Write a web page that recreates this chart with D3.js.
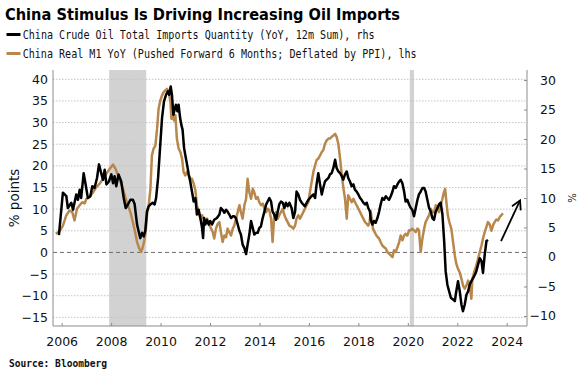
<!DOCTYPE html>
<html>
<head>
<meta charset="utf-8">
<script src="https://cdn.jsdelivr.net/npm/d3@7"></script>
<style>
  html, body { margin: 0; padding: 0; background: #fff; }
  svg { display: block; }
</style>
</head>
<body>
<svg id="chart" width="580" height="371"></svg>
<script>
// ---------- DATA ----------
const titleText = "China Stimulus Is Driving Increasing Oil Imports";
const legendLabels = [
  "China Crude Oil Total Imports Quantity (YoY, 12m Sum), rhs",
  "China Real M1 YoY (Pushed Forward 6 Months; Deflated by PPI), lhs"
];
const sourceText = "Source: Bloomberg";
const leftAxisLabel = "% points";
const rightAxisLabel = "%";

const xTickYears = [2006, 2008, 2010, 2012, 2014, 2016, 2018, 2020, 2022, 2024];
const leftTicks = [-15, -10, -5, 0, 5, 10, 15, 20, 25, 30, 35, 40];
const rightTicks = [-10, -5, 0, 5, 10, 15, 20, 25, 30];

// shaded periods (decimal years)
const recessionStarts = [2007.92, 2020.08];
const recessionEnds = [2009.42, 2020.25];

// China crude oil imports, YoY 12m sum (rhs)
const oilYears = [
2005.89,2006.05,2006.19,2006.25,2006.39,2006.46,2006.59,2006.66,2006.73,2006.79,2006.89,2006.97,
2007.06,2007.16,2007.24,2007.33,2007.43,2007.51,2007.60,2007.67,2007.74,2007.81,2007.91,
2008.01,2008.08,2008.14,2008.21,2008.30,2008.41,2008.51,2008.59,2008.68,2008.78,2008.88,2008.95,
2009.05,2009.11,2009.18,2009.25,2009.32,2009.38,2009.45,2009.52,2009.59,2009.68,2009.76,2009.82,2009.90,2009.98,
2010.06,2010.14,2010.22,2010.30,2010.35,2010.41,2010.46,2010.52,2010.57,2010.62,2010.68,2010.73,2010.79,2010.84,2010.89,2010.95,
2011.00,2011.07,2011.14,2011.20,2011.27,2011.34,2011.41,2011.47,2011.54,2011.61,2011.68,2011.72,2011.76,2011.81,2011.88,2011.95,
2012.01,2012.08,2012.17,2012.28,2012.38,2012.44,2012.51,2012.58,2012.65,2012.71,2012.78,2012.85,2012.92,2012.98,
2013.05,2013.12,2013.19,2013.25,2013.32,2013.39,2013.46,2013.52,2013.59,2013.66,2013.73,2013.79,2013.86,2013.93,2013.99,
2014.06,2014.13,2014.20,2014.27,2014.33,2014.40,2014.47,2014.53,2014.60,2014.67,2014.74,2014.80,2014.87,2014.94,
2015.01,2015.07,2015.14,2015.21,2015.30,2015.37,2015.44,2015.50,2015.57,2015.64,2015.71,2015.77,2015.84,2015.91,2015.98,
2016.04,2016.11,2016.18,2016.25,2016.31,2016.38,2016.45,2016.52,2016.58,2016.65,2016.72,2016.79,2016.85,2016.92,2016.99,
2017.06,2017.12,2017.19,2017.26,2017.33,2017.39,2017.46,2017.53,2017.59,2017.66,2017.73,2017.80,2017.86,2017.93,
2018.00,2018.07,2018.13,2018.20,2018.27,2018.34,2018.40,2018.47,2018.50,2018.57,2018.63,2018.70,2018.77,2018.84,2018.90,2018.97,
2019.04,2019.11,2019.17,2019.24,2019.31,2019.38,2019.44,2019.51,2019.58,2019.65,2019.71,2019.78,2019.85,2019.91,2019.98,
2020.05,2020.12,2020.18,2020.25,2020.32,2020.39,2020.45,2020.52,2020.59,2020.66,2020.72,2020.79,2020.86,2020.93,2020.99,
2021.06,2021.13,2021.20,2021.26,2021.33,2021.40,2021.47,2021.53,2021.60,2021.67,2021.74,2021.83,2021.90,2021.96,
2022.03,2022.10,2022.17,2022.23,2022.30,2022.37,2022.44,2022.50,2022.57,2022.64,2022.71,2022.77,2022.84,2022.91,2022.98,
2023.04,2023.11,2023.18,2023.24
];
const oilValues = [
3.7,10.9,10.3,8.3,9.2,8.0,10.6,9.7,11.4,10.0,14.2,12.3,
10.0,10.3,12.0,11.7,13.4,15.7,14.2,13.1,14.8,12.3,12.8,
14.0,12.5,13.7,12.0,14.0,12.8,10.0,8.3,8.9,9.7,9.7,9.0,
5.5,4.4,3.2,4.1,3.5,4.4,7.7,8.6,8.9,9.2,8.9,10.0,13.4,18.5,
23.6,26.4,27.5,28.1,27.5,28.9,27.5,24.1,25.0,25.8,24.7,25.8,23.6,22.4,21.6,18.5,
17.3,15.7,14.0,12.8,11.1,9.4,10.0,7.2,8.0,6.6,4.9,3.2,6.6,5.5,6.3,5.5,
6.1,5.5,6.3,6.6,7.2,8.3,8.0,7.5,8.0,7.7,7.2,6.6,6.9,6.9,
6.6,5.5,4.4,3.8,2.1,1.5,0.5,2.1,3.8,6.1,4.9,3.8,4.1,4.1,4.9,
5.2,6.6,7.7,8.9,9.4,10.0,9.4,7.7,7.2,6.3,7.7,8.9,9.4,9.2,
8.3,9.2,8.6,9.2,8.3,6.6,7.7,11.1,10.6,9.7,9.2,8.9,8.6,9.2,9.7,
10.0,10.3,10.6,10.0,12.3,14.2,12.3,10.6,11.7,12.8,13.1,13.4,14.0,14.2,15.1,
16.5,15.1,14.5,14.2,13.7,13.1,14.0,14.5,13.4,12.8,12.0,12.3,11.4,11.1,
10.6,10.0,9.7,9.2,8.9,9.2,8.3,7.7,6.3,5.5,6.1,5.8,6.6,7.7,8.9,10.0,
9.7,10.3,10.0,9.7,10.3,11.1,12.0,11.7,12.3,12.8,13.1,12.5,11.1,9.4,9.7,
8.9,8.3,8.0,6.9,8.3,9.7,10.6,11.1,11.7,11.7,11.1,9.7,8.3,7.7,6.6,
6.3,7.7,8.3,8.9,9.2,7.2,2.7,-2.4,-4.7,-5.8,-6.9,-7.2,-7.5,-5.8,
-4.1,-5.8,-8.1,-9.2,-8.1,-6.4,-5.8,-4.7,-4.1,-3.6,-3.0,-2.4,-1.3,-0.2,-0.7,
-2.7,0.4,2.7,2.9
];

// China real M1 YoY, pushed forward 6 months (lhs)
const m1Years = [
2005.76,2005.92,2006.05,2006.19,2006.32,2006.43,2006.52,2006.62,2006.73,2006.83,2006.93,
2007.00,2007.13,2007.27,2007.40,2007.54,2007.67,2007.81,2007.94,
2008.08,2008.18,2008.28,2008.34,2008.48,2008.59,2008.68,2008.78,2008.88,2008.97,
2009.05,2009.14,2009.21,2009.28,2009.36,2009.41,2009.46,2009.52,2009.59,2009.65,2009.72,2009.79,2009.86,2009.92,2009.99,
2010.06,2010.13,2010.19,2010.26,2010.33,2010.40,2010.44,2010.49,2010.54,2010.60,2010.66,2010.73,2010.80,2010.87,2010.93,
2011.00,2011.07,2011.14,2011.20,2011.27,2011.34,2011.41,2011.47,2011.54,2011.61,2011.68,2011.74,2011.81,2011.88,2011.95,
2012.11,2012.17,2012.24,2012.31,2012.38,2012.44,2012.51,2012.58,2012.65,2012.71,2012.78,2012.85,2012.92,2012.98,
2013.05,2013.12,2013.19,2013.25,2013.32,2013.39,2013.46,2013.52,2013.59,2013.66,2013.73,2013.79,2013.86,2013.93,2013.99,
2014.06,2014.13,2014.20,2014.27,2014.33,2014.40,2014.47,2014.53,2014.60,2014.67,2014.74,2014.80,2014.87,2014.94,
2015.01,2015.07,2015.14,2015.21,2015.30,2015.37,2015.44,2015.50,2015.57,2015.64,2015.71,2015.77,2015.84,2015.91,2015.98,
2016.04,2016.11,2016.18,2016.25,2016.31,2016.38,2016.45,2016.52,2016.58,2016.65,2016.72,2016.79,2016.85,2016.92,2016.99,
2017.06,2017.12,2017.19,2017.26,2017.33,2017.39,2017.46,2017.53,2017.59,2017.66,2017.73,2017.80,2017.86,2017.93,
2018.00,2018.07,2018.13,2018.20,2018.27,2018.34,2018.40,2018.45,2018.50,2018.54,2018.59,2018.66,2018.73,2018.84,2018.90,2018.97,
2019.04,2019.11,2019.17,2019.24,2019.31,2019.38,2019.44,2019.51,2019.58,2019.65,2019.71,2019.78,2019.85,2019.91,2019.98,
2020.05,2020.12,2020.18,2020.25,2020.32,2020.39,2020.45,2020.52,2020.59,2020.66,2020.72,2020.79,2020.86,2020.93,2020.99,
2021.06,2021.13,2021.20,2021.26,2021.33,2021.40,2021.46,2021.51,2021.56,2021.62,2021.69,2021.76,2021.83,2021.90,2021.96,
2022.03,2022.10,2022.17,2022.23,2022.30,2022.37,2022.44,2022.50,2022.57,2022.61,2022.68,2022.77,2022.84,2022.91,2022.98,
2023.04,2023.11,2023.18,2023.24,2023.31,2023.38,2023.45,2023.51,2023.58,2023.65,2023.72,2023.78,2023.85
];
const m1Values = [
4.3,4.9,6.2,8.6,9.7,9.3,7.4,10.1,10.9,11.6,11.3,
12.4,12.8,13.9,15.1,15.9,17.0,18.2,19.3,
20.3,19.3,17.8,17.0,14.7,12.4,10.9,9.3,7.0,4.7,
2.4,0.9,0.1,1.2,3.2,5.5,9.3,10.9,14.7,22.4,24.0,24.7,28.6,33.2,35.1,
36.3,37.1,37.4,37.8,37.1,34.8,30.9,32.4,30.5,31.7,26.3,24.0,23.2,21.7,18.6,
17.8,18.6,17.8,17.0,17.0,15.9,14.3,10.9,9.3,7.8,8.6,7.8,7.4,7.8,6.6,
4.7,3.2,5.5,6.6,7.0,4.7,2.4,3.9,3.5,5.5,4.7,3.9,5.5,6.2,
7.8,9.3,10.9,9.3,7.8,10.9,12.4,17.0,13.9,12.4,14.7,13.9,12.4,12.8,11.6,
10.9,11.3,10.1,9.3,10.1,9.7,7.8,2.4,8.6,9.3,7.8,8.6,9.3,10.1,
8.6,7.8,7.0,6.2,5.9,5.5,6.2,7.8,8.6,7.8,8.6,9.3,10.1,10.9,11.6,
13.9,16.3,18.6,20.1,21.3,21.7,22.4,23.2,23.6,25.1,25.9,26.3,26.3,26.7,27.0,
27.4,26.7,25.1,21.7,17.8,15.1,12.4,7.8,13.2,12.4,11.6,12.4,11.6,10.9,
10.1,9.3,8.6,7.8,7.0,6.6,6.2,6.8,9.5,7.8,5.5,4.7,3.9,3.2,2.4,1.6,
1.2,0.9,0.1,-0.3,-0.7,-1.1,0.5,0.1,1.2,2.4,3.9,2.8,3.9,4.3,3.9,
5.1,5.1,5.5,5.1,4.7,5.5,5.1,0.1,3.2,5.5,7.0,7.8,8.6,10.1,9.3,
9.3,10.9,10.1,9.3,10.9,12.4,13.9,14.7,11.6,8.5,6.8,5.5,2.4,-0.7,-2.6,
-3.8,-4.6,-6.1,-7.6,-8.4,-7.6,-6.5,-7.6,-10.7,-6.1,-4.6,-3.0,-1.5,0.1,1.6,
3.2,4.7,5.9,7.0,6.5,5.0,6.3,7.0,7.6,7.4,8.2,8.6,9.0
];

// annotation arrow (year, rhs %)
const arrowFrom = [2023.77, 2.7];
const arrowTo = [2024.54, 9.6];

// ---------- STYLE / LAYOUT ----------
const W = 580, H = 371;
const plot = { left: 53, right: 527, top: 70, bottom: 326 };
const goldColor = "#b8874c";
const blackColor = "#000000";
const axisColor = "#8c8c8c";
const numFont = "'DejaVu Sans', Verdana, sans-serif";
const monoFont = "'DejaVu Sans Mono', 'Liberation Mono', monospace";

const svg = d3.select("#chart");
svg.append("rect").attr("width", W).attr("height", H).attr("fill", "#fff");

const x = d3.scaleLinear().domain([2005.65, 2024.82]).range([plot.left, plot.right]);
const yL = d3.scaleLinear().domain([-17, 42.15]).range([plot.bottom, plot.top]);
const yR = d3.scaleLinear().domain([-11.7, 31.7]).range([plot.bottom, plot.top]);

// Title
svg.append("text")
  .attr("x", 5).attr("y", 20)
  .attr("font-family", numFont).attr("font-weight", "bold")
  .attr("font-size", 15.5)
  .attr("textLength", 395).attr("lengthAdjust", "spacingAndGlyphs")
  .attr("fill", "#000")
  .text(titleText);

// Legend
const legendColors = [blackColor, goldColor];
const legendY = [34.5, 53.5];
const legendWidths = [352, 394];
legendLabels.forEach((lab, i) => {
  svg.append("line")
    .attr("x1", 6.5).attr("x2", 20.5)
    .attr("y1", legendY[i]).attr("y2", legendY[i])
    .attr("stroke", legendColors[i]).attr("stroke-width", 3);
  svg.append("text")
    .attr("x", 22.7).attr("y", legendY[i] + 4.5)
    .attr("font-family", monoFont).attr("font-size", 12.5)
    .attr("textLength", legendWidths[i]).attr("lengthAdjust", "spacingAndGlyphs")
    .attr("fill", "#111")
    .text(lab);
});

// Shaded periods
svg.append("g").selectAll("rect")
  .data(d3.zip(recessionStarts, recessionEnds))
  .join("rect")
  .attr("x", d => x(d[0]))
  .attr("width", d => x(d[1]) - x(d[0]))
  .attr("y", plot.top).attr("height", plot.bottom - plot.top)
  .attr("fill", "#d2d2d2");

// Gridlines
svg.append("g").selectAll("line")
  .data(leftTicks.filter(d => d !== 0))
  .join("line")
  .attr("x1", plot.left).attr("x2", plot.right)
  .attr("y1", d => yL(d)).attr("y2", d => yL(d))
  .attr("stroke", "#c4c4c4").attr("stroke-width", 1)
  .attr("stroke-dasharray", "1.5,1.5");
svg.append("line")
  .attr("x1", plot.left).attr("x2", plot.right)
  .attr("y1", yL(0)).attr("y2", yL(0))
  .attr("stroke", "#6e6e6e").attr("stroke-width", 1)
  .attr("stroke-dasharray", "4,3");

// Axes frame
svg.append("line").attr("x1", plot.left).attr("x2", plot.left)
  .attr("y1", plot.top).attr("y2", plot.bottom).attr("stroke", axisColor);
svg.append("line").attr("x1", plot.right).attr("x2", plot.right)
  .attr("y1", plot.top).attr("y2", plot.bottom).attr("stroke", axisColor);
svg.append("line").attr("x1", plot.left).attr("x2", plot.right)
  .attr("y1", plot.bottom).attr("y2", plot.bottom).attr("stroke", axisColor);

function styleAxis(g) {
  g.select(".domain").remove();
  g.selectAll(".tick line").attr("stroke", axisColor);
  g.selectAll("text").attr("font-family", numFont).attr("font-size", 12.5).attr("fill", "#111");
}

// Left axis
svg.append("g")
  .attr("transform", `translate(${plot.left},0)`)
  .call(d3.axisLeft(yL).tickValues(leftTicks).tickSize(0).tickPadding(5))
  .call(styleAxis);

// Right axis
const gR = svg.append("g")
  .attr("transform", `translate(${plot.right},0)`)
  .call(d3.axisRight(yR).tickValues(rightTicks).tickSize(-3).tickPadding(29))
  .call(styleAxis);
gR.selectAll("text").attr("text-anchor", "end");

// Bottom axis
svg.append("g")
  .attr("transform", `translate(0,${plot.bottom})`)
  .call(d3.axisBottom(x).tickValues(xTickYears).tickFormat(d3.format("d")).tickSize(-3).tickPadding(11))
  .call(styleAxis);

// Axis titles
svg.append("text")
  .attr("transform", `translate(19,${(plot.top + plot.bottom) / 2}) rotate(-90)`)
  .attr("text-anchor", "middle")
  .attr("font-family", numFont).attr("font-size", 13.5).attr("fill", "#111")
  .text(leftAxisLabel);
svg.append("text")
  .attr("transform", `translate(568,${(plot.top + plot.bottom) / 2}) rotate(90)`)
  .attr("text-anchor", "middle")
  .attr("font-family", numFont).attr("font-size", 10).attr("fill", "#111")
  .text(rightAxisLabel);

// Lines
const m1Data = d3.zip(m1Years, m1Values);
const oilData = d3.zip(oilYears, oilValues);
svg.append("path")
  .datum(m1Data)
  .attr("fill", "none").attr("stroke", goldColor).attr("stroke-width", 2.5)
  .attr("stroke-linejoin", "round")
  .attr("d", d3.line().x(d => x(d[0])).y(d => yL(d[1])));
svg.append("path")
  .datum(oilData)
  .attr("fill", "none").attr("stroke", blackColor).attr("stroke-width", 2.5)
  .attr("stroke-linejoin", "round")
  .attr("d", d3.line().x(d => x(d[0])).y(d => yR(d[1])));

// Arrow
const ax1 = x(arrowFrom[0]), ay1 = yR(arrowFrom[1]);
const ax2 = x(arrowTo[0]), ay2 = yR(arrowTo[1]);
svg.append("line")
  .attr("x1", ax1).attr("y1", ay1).attr("x2", ax2).attr("y2", ay2)
  .attr("stroke", "#000").attr("stroke-width", 1.8);
const ang = Math.atan2(ay1 - ay2, ax1 - ax2);
const headLen = 10, spread = 0.5;
const hp = [
  [ax2 + headLen * Math.cos(ang - spread), ay2 + headLen * Math.sin(ang - spread)],
  [ax2, ay2],
  [ax2 + headLen * Math.cos(ang + spread), ay2 + headLen * Math.sin(ang + spread)]
];
svg.append("path")
  .attr("d", d3.line()(hp))
  .attr("fill", "none").attr("stroke", "#000").attr("stroke-width", 1.8)
  .attr("stroke-linejoin", "miter");

// Source
svg.append("text")
  .attr("x", 9).attr("y", 367)
  .attr("font-family", monoFont).attr("font-weight", "bold").attr("font-size", 10.5)
  .attr("textLength", 98).attr("lengthAdjust", "spacingAndGlyphs")
  .attr("fill", "#111")
  .text(sourceText);
</script>
</body>
</html>
